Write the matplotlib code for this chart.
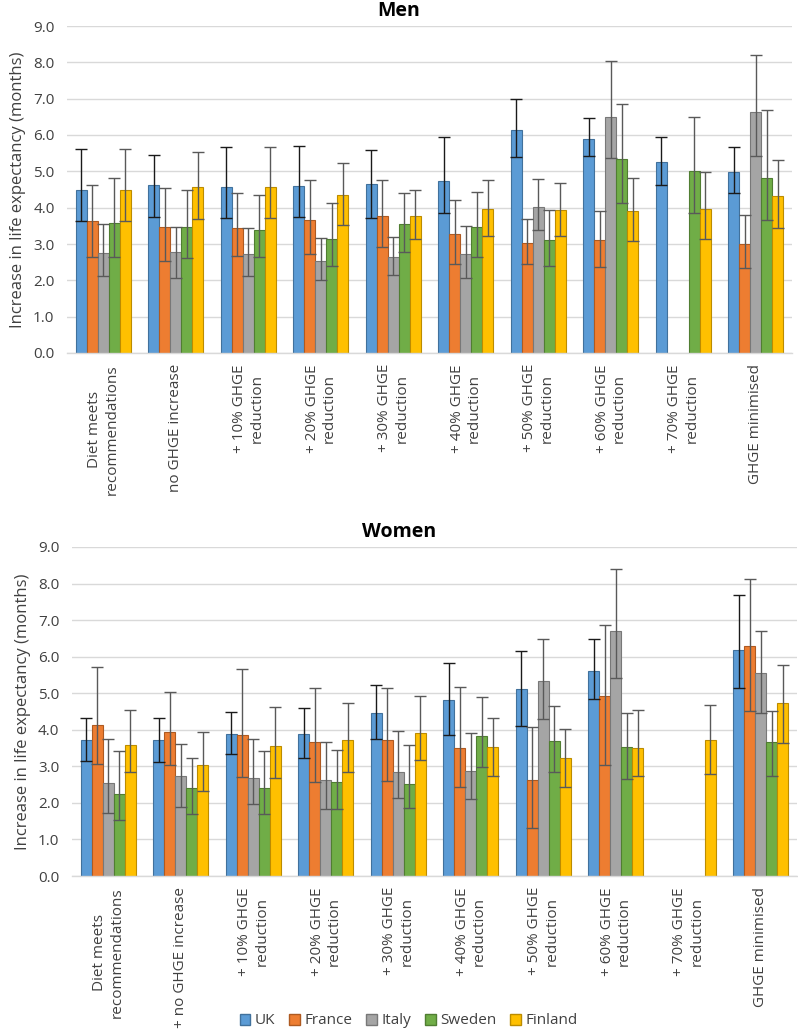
import numpy as np
import matplotlib
matplotlib.use("Agg")
import matplotlib.pyplot as plt
from matplotlib.patches import Patch

plt.rcParams['font.family'] = ['Open Sans', 'DejaVu Sans']

nan = np.nan

countries = ["UK", "France", "Italy", "Sweden", "Finland"]

categories_men = ["Diet meets\nrecommendations", "no GHGE increase",
                  "+ 10% GHGE\nreduction", "+ 20% GHGE\nreduction",
                  "+ 30% GHGE\nreduction", "+ 40% GHGE\nreduction",
                  "+ 50% GHGE\nreduction", "+ 60% GHGE\nreduction",
                  "+ 70% GHGE\nreduction", "GHGE minimised"]
categories_women = ["Diet meets\nrecommendations", "+ no GHGE increase",
                    "+ 10% GHGE\nreduction", "+ 20% GHGE\nreduction",
                    "+ 30% GHGE\nreduction", "+ 40% GHGE\nreduction",
                    "+ 50% GHGE\nreduction", "+ 60% GHGE\nreduction",
                    "+ 70% GHGE\nreduction", "GHGE minimised"]

y_ticks = [0, 1, 2, 3, 4, 5, 6, 7, 8, 9]

# ---- Men ----
men_uk = [4.50, 4.62, 4.56, 4.60, 4.66, 4.74, 6.15, 5.90, 5.26, 4.97]
men_uk_lo = [3.64, 3.74, 3.71, 3.74, 3.71, 3.84, 5.39, 5.41, 4.63, 4.39]
men_uk_hi = [5.61, 5.46, 5.66, 5.71, 5.58, 5.94, 6.99, 6.48, 5.94, 5.67]
men_fr = [3.62, 3.48, 3.44, 3.65, 3.76, 3.27, 3.04, 3.10, nan, 3.00]
men_fr_lo = [2.65, 2.52, 2.66, 2.72, 2.93, 2.44, 2.45, 2.37, nan, 2.34]
men_fr_hi = [4.62, 4.54, 4.39, 4.77, 4.75, 4.22, 3.69, 3.90, nan, 3.80]
men_it = [2.74, 2.78, 2.72, 2.52, 2.63, 2.72, 4.03, 6.50, nan, 6.64]
men_it_lo = [2.12, 2.07, 2.11, 2.00, 2.15, 2.06, 3.38, 5.38, nan, 5.42]
men_it_hi = [3.54, 3.48, 3.44, 3.16, 3.20, 3.49, 4.80, 8.03, nan, 8.19]
men_se = [3.59, 3.48, 3.38, 3.13, 3.56, 3.46, 3.10, 5.35, 5.01, 4.82]
men_se_lo = [2.63, 2.61, 2.63, 2.39, 2.77, 2.65, 2.39, 4.13, 3.86, 3.66]
men_se_hi = [4.81, 4.49, 4.35, 4.13, 4.41, 4.44, 3.94, 6.85, 6.50, 6.68]
men_fi = [4.49, 4.56, 4.58, 4.35, 3.76, 3.96, 3.93, 3.90, 3.95, 4.31]
men_fi_lo = [3.62, 3.68, 3.72, 3.53, 3.13, 3.23, 3.21, 3.09, 3.14, 3.43]
men_fi_hi = [5.62, 5.53, 5.67, 5.24, 4.49, 4.76, 4.67, 4.82, 4.99, 5.31]

# ---- Women ----
women_uk = [3.72, 3.72, 3.89, 3.88, 4.47, 4.81, 5.12, 5.61, nan, 6.18]
women_uk_lo = [3.15, 3.12, 3.35, 3.24, 3.75, 3.87, 4.10, 4.83, nan, 5.15]
women_uk_hi = [4.33, 4.32, 4.49, 4.60, 5.22, 5.83, 6.15, 6.48, nan, 7.69]
women_fr = [4.13, 3.93, 3.87, 3.67, 3.73, 3.51, 2.63, 4.92, nan, 6.29]
women_fr_lo = [3.06, 3.04, 2.70, 2.56, 2.61, 2.44, 1.31, 3.04, nan, 4.51]
women_fr_hi = [5.71, 5.04, 5.65, 5.15, 5.15, 5.16, 4.08, 6.87, nan, 8.12]
women_it = [2.54, 2.73, 2.69, 2.62, 2.84, 2.87, 5.34, 6.70, nan, 5.54]
women_it_lo = [1.73, 1.90, 1.96, 1.84, 2.14, 2.11, 4.29, 5.43, nan, 4.47]
women_it_hi = [3.74, 3.61, 3.75, 3.66, 3.98, 3.92, 6.47, 8.39, nan, 6.70]
women_se = [2.23, 2.40, 2.40, 2.56, 2.52, 3.83, 3.70, 3.52, nan, 3.66]
women_se_lo = [1.52, 1.70, 1.70, 1.82, 1.85, 2.98, 2.84, 2.64, nan, 2.74]
women_se_hi = [3.43, 3.23, 3.43, 3.45, 3.58, 4.89, 4.65, 4.47, nan, 4.52]
women_fi = [3.57, 3.05, 3.56, 3.72, 3.91, 3.52, 3.24, 3.50, 3.72, 4.72]
women_fi_lo = [2.84, 2.32, 2.69, 2.85, 3.16, 2.74, 2.44, 2.73, 2.78, 3.63]
women_fi_hi = [4.54, 3.95, 4.63, 4.72, 4.92, 4.33, 4.02, 4.54, 4.69, 5.76]

fill_colors = ["#5B9BD5", "#ED7D31", "#A5A5A5", "#70AD47", "#FFC000"]
edge_colors = ["#41719C", "#AE5A21", "#787878", "#507E32", "#BC8C00"]
err_colors = ["#1a1a1a", "#595959", "#595959", "#595959", "#595959"]

men_series = [(men_uk, men_uk_lo, men_uk_hi), (men_fr, men_fr_lo, men_fr_hi),
              (men_it, men_it_lo, men_it_hi), (men_se, men_se_lo, men_se_hi),
              (men_fi, men_fi_lo, men_fi_hi)]
women_series = [(women_uk, women_uk_lo, women_uk_hi), (women_fr, women_fr_lo, women_fr_hi),
                (women_it, women_it_lo, women_it_hi), (women_se, women_se_lo, women_se_hi),
                (women_fi, women_fi_lo, women_fi_hi)]

W, H = 798, 1030
fig = plt.figure(figsize=(W / 100, H / 100), dpi=100)

ax_men = fig.add_axes([67 / W, 1 - 353 / H, 725 / W, 327 / H])
ax_women = fig.add_axes([72 / W, 1 - 876 / H, 725 / W, 329 / H])

bw = 0.151


def draw(ax, series, cats):
    x = np.arange(len(cats))
    for i, (vals, lo, hi) in enumerate(series):
        v = np.array(vals, dtype=float)
        l = np.array(lo, dtype=float)
        h = np.array(hi, dtype=float)
        xs = x + (i - 2) * bw
        ax.bar(xs, v, width=bw, color=fill_colors[i], edgecolor=edge_colors[i],
               linewidth=0.8, zorder=2, label=countries[i])
        m = ~np.isnan(v)
        ax.errorbar(xs[m], v[m], yerr=[v[m] - l[m], h[m] - v[m]], fmt='none',
                    ecolor=err_colors[i], elinewidth=1.0, capsize=4, capthick=1.0,
                    zorder=3)
    ax.set_xlim(-0.5, len(cats) - 0.5)
    ax.set_ylim(0, 9)
    ax.set_yticks(y_ticks)
    ax.set_yticklabels([f"{t:.1f}" for t in y_ticks], fontsize=11, color="#404040")
    ax.set_xticks(x)
    ax.set_xticklabels(cats, rotation=90, fontsize=11, color="#404040",
                       multialignment='center', va='top', ha='center')
    ax.tick_params(axis='x', length=0, pad=8)
    ax.tick_params(axis='y', length=0, pad=9)
    for s in ['top', 'right', 'left']:
        ax.spines[s].set_visible(False)
    ax.spines['bottom'].set_color('#D9D9D9')
    ax.spines['bottom'].set_linewidth(1.0)
    ax.grid(axis='y', color='#D9D9D9', linewidth=1.0, zorder=0)
    ax.set_axisbelow(True)
    ax.set_ylabel("Increase in life expectancy (months)", fontsize=12,
                  color="#404040", labelpad=5)


draw(ax_men, men_series, categories_men)
draw(ax_women, women_series, categories_women)

fig.text(0.5, 1 - 16 / H, "Men", ha='center', va='baseline', fontsize=14,
         fontweight='bold', color='black')
fig.text(0.5, 1 - 537 / H, "Women", ha='center', va='baseline', fontsize=14,
         fontweight='bold', color='black')

handles = [Patch(facecolor=fill_colors[i], edgecolor=edge_colors[i], label=countries[i])
           for i in range(5)]
fig.legend(handles=handles, loc='center', bbox_to_anchor=(0.512, 1 - 1021 / H), ncol=5,
           frameon=False, fontsize=11, handlelength=0.7, handleheight=0.7,
           handletextpad=0.3, columnspacing=0.9, labelcolor="#404040")

fig.savefig("out.png", dpi=100)
